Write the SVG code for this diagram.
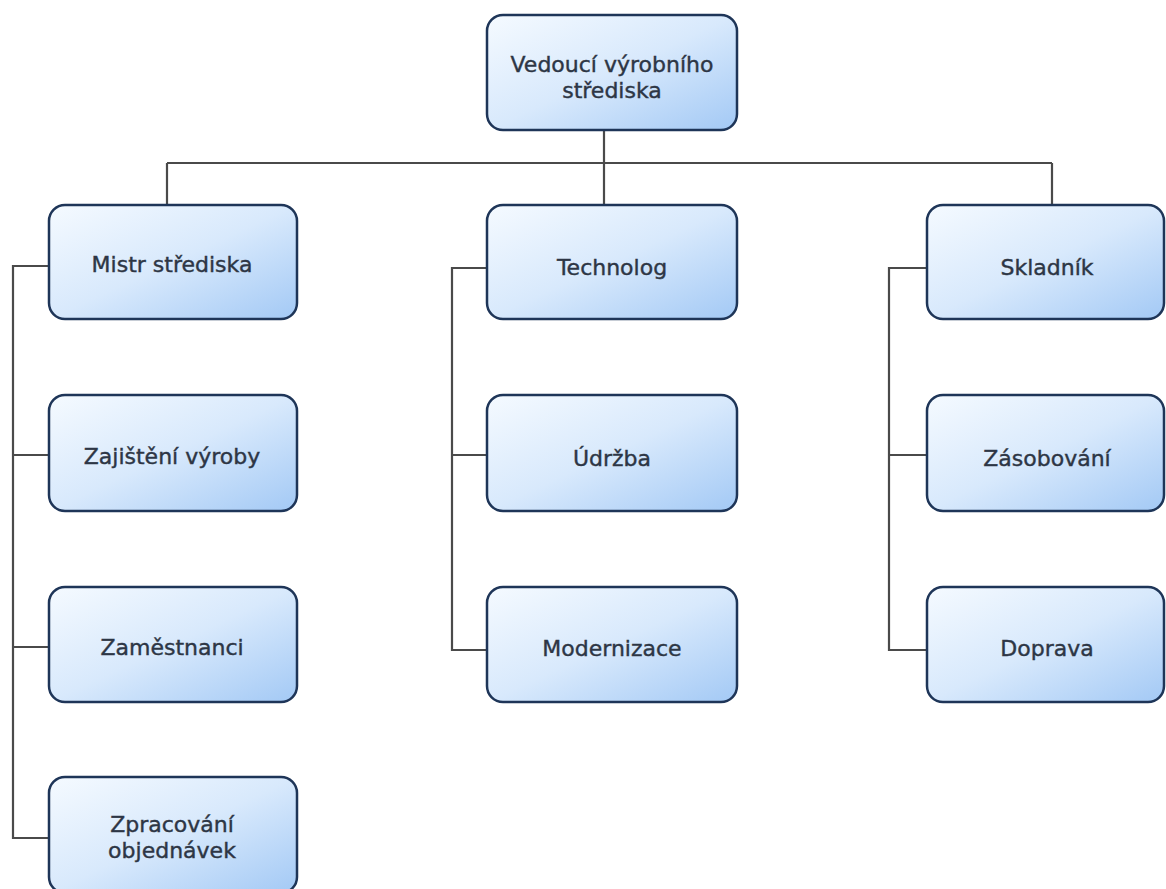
<svg xmlns="http://www.w3.org/2000/svg" width="1166" height="889" viewBox="0 0 1166 889">
<defs>
<linearGradient id="g" x1="0" y1="0" x2="1" y2="1">
<stop offset="0" stop-color="#f5faff"/>
<stop offset="0.5" stop-color="#d8e9fc"/>
<stop offset="1" stop-color="#a3c9f5"/>
</linearGradient>
<style>
.box{fill:url(#g);stroke:#1e3558;stroke-width:2.5}
.t{font-family:"DejaVu Sans",sans-serif;font-size:22px;fill:#2d3645;stroke:#2d3645;stroke-width:0.4;text-anchor:middle}
.c{fill:none;stroke:#4a4a4a;stroke-width:2.2}
</style>
</defs>
<rect width="1166" height="889" fill="#fff"/>
<g id="connectors">
<path class="c" d="M604 130V163M167 163H1052M167 163V205M604 163V205M1052 163V205"/>
<path class="c" d="M49 266H13V838H49M13 455H49M13 647H49"/>
<path class="c" d="M487 268H452V650H487M452 455H487"/>
<path class="c" d="M927 268H889V650H927M889 455H927"/>
</g>
<g id="n-vedouci"><rect class="box" x="487" y="15" width="250" height="115" rx="16"/><text class="t" x="612" y="72">Vedoucí výrobního</text><text class="t" x="612" y="98">střediska</text></g>
<g id="n-mistr"><rect class="box" x="49" y="205" width="248" height="114" rx="16"/><text class="t" x="172" y="272">Mistr střediska</text></g>
<g id="n-technolog"><rect class="box" x="487" y="205" width="250" height="114" rx="16"/><text class="t" x="612" y="275">Technolog</text></g>
<g id="n-skladnik"><rect class="box" x="927" y="205" width="237" height="114" rx="16"/><text class="t" x="1047" y="275">Skladník</text></g>
<g id="n-zajisteni"><rect class="box" x="49" y="395" width="248" height="116" rx="16"/><text class="t" x="172" y="464">Zajištění výroby</text></g>
<g id="n-udrzba"><rect class="box" x="487" y="395" width="250" height="116" rx="16"/><text class="t" x="612" y="466">Údržba</text></g>
<g id="n-zasobovani"><rect class="box" x="927" y="395" width="237" height="116" rx="16"/><text class="t" x="1047" y="466">Zásobování</text></g>
<g id="n-zamestnanci"><rect class="box" x="49" y="587" width="248" height="115" rx="16"/><text class="t" x="172" y="655">Zaměstnanci</text></g>
<g id="n-modernizace"><rect class="box" x="487" y="587" width="250" height="115" rx="16"/><text class="t" x="612" y="656">Modernizace</text></g>
<g id="n-doprava"><rect class="box" x="927" y="587" width="237" height="115" rx="16"/><text class="t" x="1047" y="656">Doprava</text></g>
<g id="n-zpracovani"><rect class="box" x="49" y="777" width="248" height="116" rx="16"/><text class="t" x="172" y="832">Zpracování</text><text class="t" x="172" y="858">objednávek</text></g>
</svg>
